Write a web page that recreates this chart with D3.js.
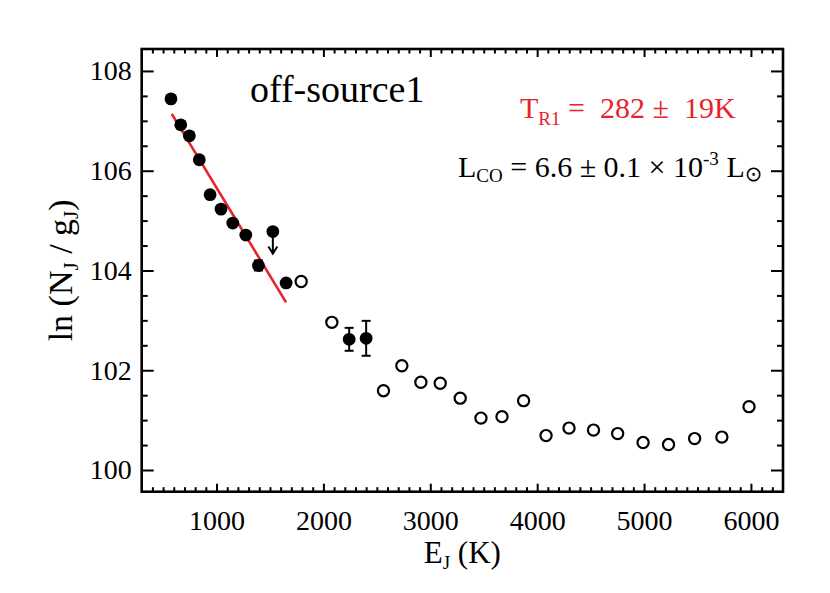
<!DOCTYPE html>
<html>
<head>
<meta charset="utf-8">
<script src="https://cdn.jsdelivr.net/npm/d3@7"></script>
<style>
  html, body { margin: 0; padding: 0; background: #fff; }
  svg { display: block; }
  text { font-family: "Liberation Serif", "Times New Roman", serif; fill: #000; }
</style>
</head>
<body>
<svg id="chart" width="830" height="593"></svg>
<script>
// ---- data ----
// detected points used in the fit (filled)
const filledE   = [574, 665, 746, 839, 940, 1042, 1152, 1274, 1392, 1651, 2241, 2400];
const filledV   = [107.44, 106.92, 106.70, 106.22, 105.52, 105.23, 104.95, 104.71, 104.10, 103.75, 102.62, 102.64];
const filledErr = [0, 0, 0, 0, 0, 0, 0, 0, 0.10, 0, 0.23, 0.35];
// upper limit (filled with downward arrow)
const limitE = [1527];
const limitV = [104.78];
// open circles
const openE = [1792, 2079, 2562, 2734, 2912, 3093, 3280, 3474, 3671, 3873, 4083, 4298, 4527, 4753, 4991, 5229, 5473, 5728, 5982];
const openV = [103.78, 102.96, 101.59, 102.09, 101.76, 101.74, 101.44, 101.04, 101.07, 101.39, 100.69, 100.84, 100.80, 100.73, 100.55, 100.51, 100.63, 100.66, 101.27];
// rotational temperature fit line end points
const fitE = [581, 1651];
const fitV = [107.14, 103.36];
// axis ticks
const xMajorTicks = [1000, 2000, 3000, 4000, 5000, 6000];
const yMajorTicks = [100, 102, 104, 106, 108];
const xDomain = [300, 6300];
const yDomain = [99.565, 108.44];

// ---- layout ----
const L = 141.7, R = 783, T = 49, B = 491.7;
const red = "#e8232b";

const svg = d3.select("#chart");
const x = d3.scaleLinear().domain(xDomain).range([L, R]);
const y = d3.scaleLinear().domain(yDomain).range([B, T]);

const xMinor = d3.range(400, 6300, 100).filter(v => v % 1000 !== 0);
const yMinor = d3.range(100, 108.5, 0.5).filter(v => v % 2 !== 0);

function tickGroup(axisFn, translate, ticks, size, pad) {
  const g = svg.append("g").attr("transform", translate)
    .call(axisFn.tickValues(ticks).tickSizeInner(-size).tickSizeOuter(0)
      .tickPadding(pad || 0)
      .tickFormat(pad ? d3.format("d") : () => ""));
  g.select(".domain").remove();
  g.selectAll(".tick line").attr("stroke", "#000").attr("stroke-width", 2);
  g.selectAll(".tick text").style("font-family", "Liberation Serif").style("font-size", "28px").attr("fill", "#000");
  return g;
}
// bottom
tickGroup(d3.axisBottom(x), `translate(0,${B})`, xMajorTicks, 8, 18);
tickGroup(d3.axisBottom(x), `translate(0,${B})`, xMinor, 4.5, 0);
// top
tickGroup(d3.axisTop(x), `translate(0,${T})`, xMajorTicks, 8, 0);
tickGroup(d3.axisTop(x), `translate(0,${T})`, xMinor, 4.5, 0);
// left
tickGroup(d3.axisLeft(y), `translate(${L},0)`, yMajorTicks, 12, 10);
tickGroup(d3.axisLeft(y), `translate(${L},0)`, yMinor, 6, 0);
// right
tickGroup(d3.axisRight(y), `translate(${R},0)`, yMajorTicks, 12, 0);
tickGroup(d3.axisRight(y), `translate(${R},0)`, yMinor, 6, 0);

// frame
svg.append("rect").attr("x", L).attr("y", T).attr("width", R - L).attr("height", B - T)
  .attr("fill", "none").attr("stroke", "#000").attr("stroke-width", 2.6);

// fit line
svg.append("line")
  .attr("x1", x(fitE[0])).attr("y1", y(fitV[0]))
  .attr("x2", x(fitE[1])).attr("y2", y(fitV[1]))
  .attr("stroke", red).attr("stroke-width", 2.6);

// error bars
filledE.forEach((e, i) => {
  const err = filledErr[i];
  if (!err) return;
  const cx = x(e), y1 = y(filledV[i] + err), y2 = y(filledV[i] - err);
  const g = svg.append("g").attr("stroke", "#000").attr("stroke-width", 2);
  g.append("line").attr("x1", cx).attr("x2", cx).attr("y1", y1).attr("y2", y2);
  g.append("line").attr("x1", cx - 4.5).attr("x2", cx + 4.5).attr("y1", y1).attr("y2", y1);
  g.append("line").attr("x1", cx - 4.5).attr("x2", cx + 4.5).attr("y1", y2).attr("y2", y2);
});

// upper-limit arrows
limitE.forEach((e, i) => {
  const cx = x(e), cy = y(limitV[i]);
  const g = svg.append("g").attr("stroke", "#000").attr("stroke-width", 2).attr("fill", "none");
  g.append("line").attr("x1", cx).attr("x2", cx).attr("y1", cy).attr("y2", cy + 22);
  g.append("path").attr("d", `M${cx - 4.5},${cy + 15} L${cx},${cy + 22} L${cx + 4.5},${cy + 15}`);
});

// filled points
svg.append("g").selectAll("circle").data(filledE.map((e, i) => [e, filledV[i]]).concat(limitE.map((e, i) => [e, limitV[i]])))
  .join("circle").attr("cx", d => x(d[0])).attr("cy", d => y(d[1])).attr("r", 6.4).attr("fill", "#000");

// open points
svg.append("g").selectAll("circle").data(openE.map((e, i) => [e, openV[i]]))
  .join("circle").attr("cx", d => x(d[0])).attr("cy", d => y(d[1])).attr("r", 5.6)
  .attr("fill", "#fff").attr("stroke", "#000").attr("stroke-width", 2.2);

// annotations
svg.append("text").attr("x", 250).attr("y", 102).style("font-size", "38px").text("off-source1");

const t1 = svg.append("text").attr("x", 520).attr("y", 118).style("font-size", "30px").attr("fill", red).style("fill", red);
t1.append("tspan").text("T");
t1.append("tspan").attr("dy", 7).style("font-size", "19px").text("R1");
t1.append("tspan").attr("dy", -7).attr("xml:space", "preserve").text(" =  282 \u00B1  19K");

const t2 = svg.append("text").attr("x", 458).attr("y", 177).style("font-size", "30px");
t2.append("tspan").text("L");
t2.append("tspan").attr("dy", 5).style("font-size", "19px").text("CO");
t2.append("tspan").attr("dy", -5).text(" = 6.6 \u00B1 0.1 \u00D7 10");
t2.append("tspan").attr("dy", -12).style("font-size", "19px").text("-3");
t2.append("tspan").attr("dy", 12).text(" L");
t2.append("tspan").attr("dy", 4).style("font-size", "21px").style("font-family", "DejaVu Sans").text("\u2299");

// axis titles
const xt = svg.append("text").attr("x", (L + R) / 2).attr("y", 563).attr("text-anchor", "middle").style("font-size", "31px");
xt.append("tspan").text("E");
xt.append("tspan").attr("dy", 6).style("font-size", "19px").text("J");
xt.append("tspan").attr("dy", -6).text(" (K)");

const yt = svg.append("text").attr("transform", `translate(72,${(T + B) / 2}) rotate(-90)`).attr("text-anchor", "middle").style("font-size", "34px");
yt.append("tspan").text("ln (N");
yt.append("tspan").attr("dy", 6).style("font-size", "21px").text("J");
yt.append("tspan").attr("dy", -6).text(" / g");
yt.append("tspan").attr("dy", 6).style("font-size", "21px").text("J");
yt.append("tspan").attr("dy", -6).text(")");
</script>
</body>
</html>
